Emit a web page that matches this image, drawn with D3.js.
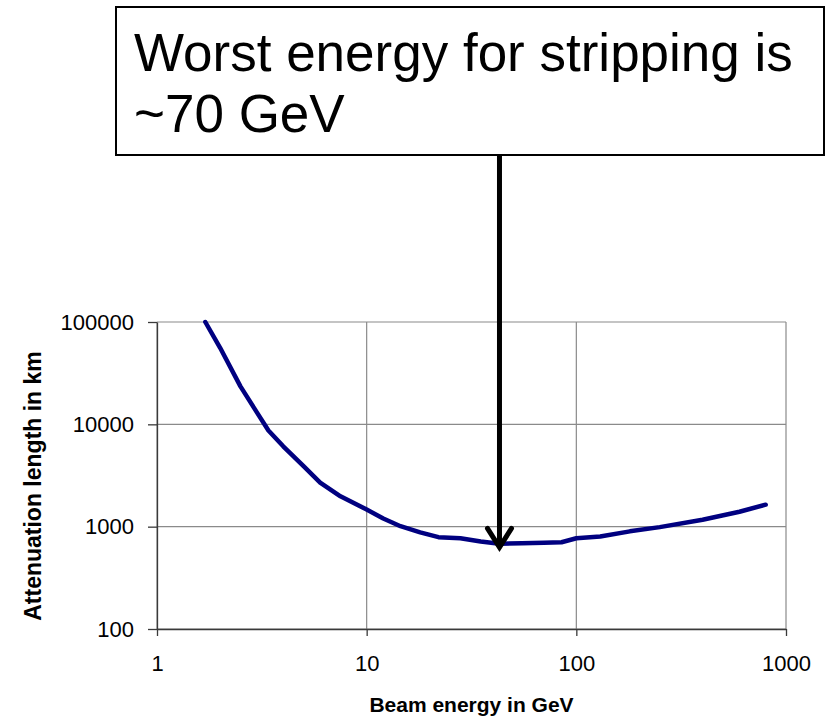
<!DOCTYPE html>
<html>
<head>
<meta charset="utf-8">
<script src="https://cdn.jsdelivr.net/npm/d3@7"></script>
<style>
    body { margin: 0; background: #fff; }
    svg { display: block; font-family: "Liberation Sans", Arial, sans-serif; }
</style>
</head>
<body>
<svg id="chart"></svg>
<script>
// beam energy (GeV) vs attenuation length (km)
const energies = [1.7, 2.0, 2.5, 3.0, 3.4, 4.0, 5.0, 6.0, 7.5, 10, 12, 14.5, 18, 22, 28, 35, 43, 55, 70, 85, 100, 130, 180, 250, 400, 600, 800];
const lengths  = [100000, 56000, 23500, 13000, 8700, 6100, 3900, 2700, 1980, 1470, 1200, 1010, 880, 790, 770, 715, 680, 690, 695, 705, 770, 800, 900, 990, 1170, 1400, 1640];

const xTicks = [1, 10, 100, 1000];
const yTicks = [100, 1000, 10000, 100000];

const noteLines = ["Worst energy for stripping is", "~70 GeV"];
const arrowEnergy = 43;
const arrowLength = 600;

class LogLineChart {

    constructor( config ) {
        this.config = {
            parent: config.parent,
            width: config.width || 831,
            height: config.height || 719,
            margin: config.margin || {top:322, right:45, bottom:90, left:157},
            xlabel: config.xlabel || "",
            ylabel: config.ylabel || "",
        }
        this.init();
    }

    init() {
        let self = this;

        self.svg = d3.select( self.config.parent )
            .attr('width', self.config.width)
            .attr('height', self.config.height);

        self.chart = self.svg.append('g')
            .attr('transform', `translate(${self.config.margin.left}, ${self.config.margin.top})`);

        self.inner_width = self.config.width - self.config.margin.left - self.config.margin.right;
        self.inner_height = self.config.height - self.config.margin.top - self.config.margin.bottom;

        self.xscale = d3.scaleLog()
            .domain( [1, 1000] )
            .range( [0, self.inner_width] );

        self.yscale = d3.scaleLog()
            .domain( [100, 100000] )
            .range( [self.inner_height, 0] );
    }

    render() {
        let self = this;

        // grid
        self.chart.append('g')
            .selectAll('line')
            .data(xTicks)
            .join('line')
            .attr('x1', d => self.xscale(d))
            .attr('x2', d => self.xscale(d))
            .attr('y1', 0)
            .attr('y2', self.inner_height)
            .attr('stroke', '#8a8a8a')
            .attr('stroke-width', 1.2);

        self.chart.append('g')
            .selectAll('line')
            .data(yTicks)
            .join('line')
            .attr('x1', 0)
            .attr('x2', self.inner_width)
            .attr('y1', d => self.yscale(d))
            .attr('y2', d => self.yscale(d))
            .attr('stroke', '#8a8a8a')
            .attr('stroke-width', 1.2);

        // axes
        const xaxis = d3.axisBottom( self.xscale )
            .tickValues(xTicks)
            .tickFormat(d3.format('d'))
            .tickSize(7)
            .tickSizeOuter(0)
            .tickPadding(19);

        const yaxis = d3.axisLeft( self.yscale )
            .tickValues(yTicks)
            .tickFormat(d3.format('d'))
            .tickSize(9)
            .tickSizeOuter(0)
            .tickPadding(14);

        const xg = self.chart.append('g')
            .attr('transform', `translate(0, ${self.inner_height})`)
            .call(xaxis);
        const yg = self.chart.append('g')
            .call(yaxis);

        [xg, yg].forEach(g => {
            g.selectAll('path, line').attr('stroke', '#3a3a3a').attr('stroke-width', 1.3);
            g.selectAll('text')
                .attr('fill', '#000')
                .style('font-size', '22px')
                .style('font-family', '"Liberation Sans", Arial, sans-serif');
        });

        // curve
        const line = d3.line()
            .x(d => self.xscale(d[0]))
            .y(d => self.yscale(d[1]));

        self.chart.append('path')
            .datum(d3.zip(energies, lengths))
            .attr('fill', 'none')
            .attr('stroke', '#000080')
            .attr('stroke-width', 4.5)
            .attr('stroke-linejoin', 'round')
            .attr('stroke-linecap', 'round')
            .attr('d', line);

        // axis titles
        self.svg.append('text')
            .attr('x', self.config.margin.left + self.inner_width / 2)
            .attr('y', 712)
            .attr('text-anchor', 'middle')
            .attr('font-weight', 'bold')
            .style('font-size', '21px')
            .text(self.config.xlabel);

        self.svg.append('text')
            .attr('transform', 'rotate(-90)')
            .attr('x', -486)
            .attr('y', 41)
            .attr('text-anchor', 'middle')
            .attr('font-weight', 'bold')
            .style('font-size', '23px')
            .text(self.config.ylabel);

        // annotation box and arrow
        const note = self.svg.append('g');
        note.append('rect')
            .attr('x', 116)
            .attr('y', 7)
            .attr('width', 708)
            .attr('height', 148)
            .attr('fill', '#fff')
            .attr('stroke', '#000')
            .attr('stroke-width', 2);

        note.selectAll('text')
            .data(noteLines)
            .join('text')
            .attr('x', 134)
            .attr('y', (d, i) => 71 + i * 61)
            .style('font-size', '53px')
            .text(d => d);

        const ax = self.config.margin.left + self.xscale(arrowEnergy);
        const ay = self.config.margin.top + self.yscale(arrowLength);
        note.append('line')
            .attr('x1', ax).attr('x2', ax)
            .attr('y1', 155).attr('y2', ay - 2)
            .attr('stroke', '#000')
            .attr('stroke-width', 5);
        note.append('path')
            .attr('d', `M${ax - 12},${ay - 21}L${ax},${ay - 2}L${ax + 12},${ay - 21}`)
            .attr('fill', 'none')
            .attr('stroke', '#000')
            .attr('stroke-width', 5)
            .attr('stroke-linecap', 'round');
    }
}

const chart = new LogLineChart({
    parent: '#chart',
    width: 831,
    height: 719,
    margin: {top: 322, right: 45, bottom: 90, left: 157},
    xlabel: 'Beam energy in GeV',
    ylabel: 'Attenuation length in km',
});
chart.render();
</script>
</body>
</html>
